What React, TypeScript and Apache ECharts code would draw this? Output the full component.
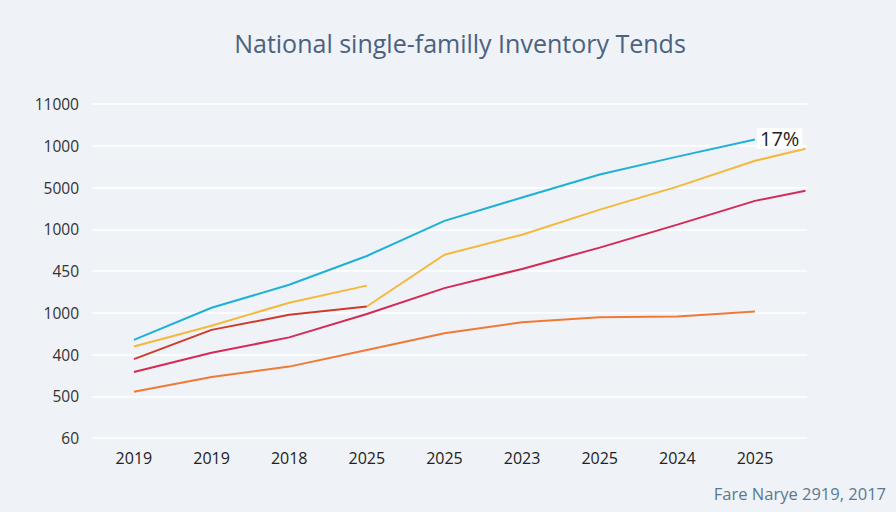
import React, { useEffect, useRef } from "react";
import * as echarts from "echarts";

const xLabels = ["2019", "2019", "2018", "2025", "2025", "2023", "2025", "2024", "2025"];
const yLabels = ["60", "500", "400", "1000", "450", "1000", "5000", "1000", "11000"];

const cyanValues = [2.35, 3.12, 3.67, 4.36, 5.2, 5.76, 6.31, 6.74, 7.15];
const yellowEarly = [2.19, 2.69, 3.24, 3.65];
const darkRedEarly = [1.89, 2.59, 2.95, 3.15];
const yellowLate: [number, number][] = [
  [3, 3.15], [4, 4.39], [5, 4.87], [6, 5.47], [7, 6.02], [8, 6.64], [8.65, 6.93],
];
const crimsonValues: [number, number][] = [
  [0, 1.58], [1, 2.04], [2, 2.41], [3, 2.97], [4, 3.59], [5, 4.05], [6, 4.56], [7, 5.11], [8, 5.68], [8.65, 5.92],
];
const orangeValues = [1.11, 1.46, 1.71, 2.11, 2.51, 2.77, 2.89, 2.91, 3.03];
const endLabelText = "17%";

const FONT = "'Open Sans', 'DejaVu Sans', sans-serif";

function idx(arr: number[]): [number, number][] {
  return arr.map((v, i) => [i, v]);
}

export default function App() {
  const ref = useRef<HTMLDivElement>(null);
  useEffect(() => {
    if (!ref.current) return;
    const chart = echarts.init(ref.current, undefined, { renderer: "svg" });
    const lineBase = {
      type: "line" as const,
      showSymbol: false,
      symbol: "none",
      smooth: false,
      z: 3,
    };
    chart.setOption({
      animation: false,
      backgroundColor: "#eff2f6",
      textStyle: { fontFamily: FONT },
      title: {
        text: "National single-familly Inventory Tends",
        left: 455,
        top: 25,
        textAlign: "center",
        textStyle: { fontFamily: FONT, fontSize: 25, fontWeight: "normal", color: "#4b6180" },
      },
      grid: { left: 92, right: 89, top: 104, bottom: 74, containLabel: false },
      xAxis: {
        type: "value",
        min: -0.54,
        max: 8.67,
        axisLine: { show: false },
        axisTick: { show: false },
        splitLine: { show: false },
        axisLabel: {
          customValues: [0, 1, 2, 3, 4, 5, 6, 7, 8],
          formatter: (v: number) => xLabels[Math.round(v)] ?? "",
          color: "#222",
          fontSize: 16,
          margin: 12,
          fontFamily: FONT,
        },
      },
      yAxis: {
        type: "value",
        min: 0,
        max: 8,
        interval: 1,
        axisLine: { show: false },
        axisTick: { show: false },
        splitLine: { show: true, lineStyle: { color: "#ffffff", width: 1.5 } },
        axisLabel: {
          formatter: (v: number) => yLabels[Math.round(v)] ?? "",
          color: "#333",
          fontSize: 15.5,
          margin: 13,
          fontFamily: FONT,
        },
      },
      series: [
        { ...lineBase, name: "orange", data: idx(orangeValues), lineStyle: { color: "#ef7a36", width: 2 } },
        { ...lineBase, name: "crimson", data: crimsonValues, lineStyle: { color: "#d42a56", width: 2 } },
        { ...lineBase, name: "darkred", data: idx(darkRedEarly), lineStyle: { color: "#cf3a2e", width: 2 } },
        { ...lineBase, name: "yellowLate", data: yellowLate, lineStyle: { color: "#f4b93a", width: 2 } },
        { ...lineBase, name: "yellowEarly", data: idx(yellowEarly), lineStyle: { color: "#f4b93a", width: 2 } },
        {
          ...lineBase,
          name: "cyan",
          data: idx(cyanValues),
          lineStyle: { color: "#1fb0d6", width: 2 },
          endLabel: {
            show: true,
            formatter: endLabelText,
            color: "#222",
            fontSize: 20,
            fontFamily: FONT,
            backgroundColor: "#ffffff",
            padding: [1, 3, 0, 3],
            distance: 2,
            offset: [0, -1],
          },
        },
      ],
      graphic: [
        {
          type: "text",
          right: 10,
          top: 485,
          style: {
            text: "Fare Narye 2919, 2017",
            fill: "#5b7891",
            fontSize: 16.5,
            fontFamily: FONT,
          },
        },
      ],
    });
    return () => chart.dispose();
  }, []);
  return (
    <div
      ref={ref}
      style={{ position: "fixed", left: 0, top: 0, width: 896, height: 512 }}
    />
  );
}
